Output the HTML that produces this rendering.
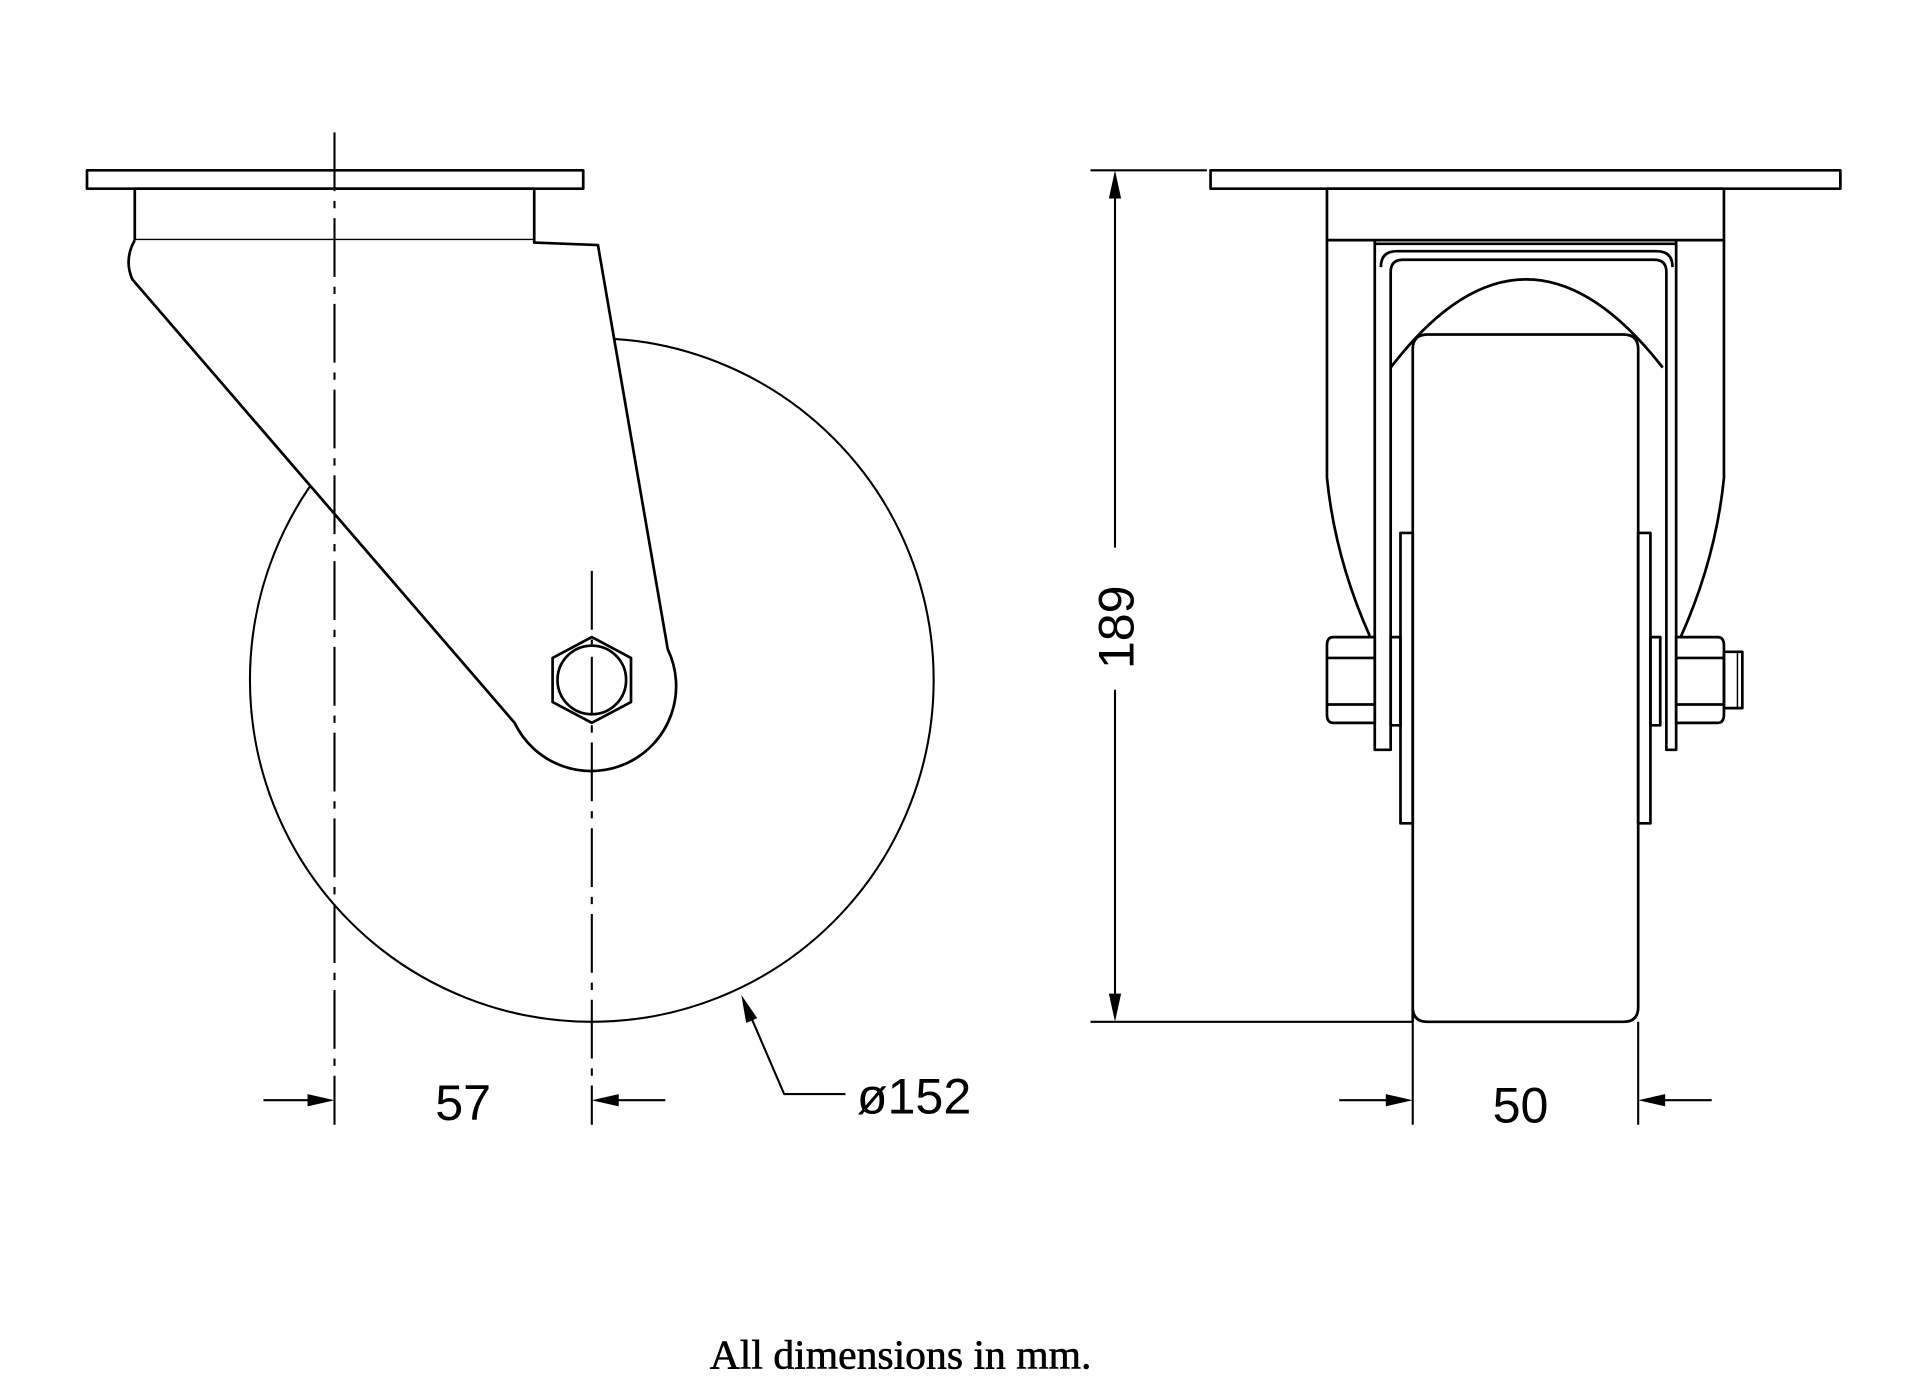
<!DOCTYPE html>
<html><head><style>
html,body{margin:0;padding:0;background:#fff;width:1920px;height:1382px;overflow:hidden}
svg{display:block}
text{font-family:"Liberation Sans",sans-serif;fill:#000}
</style></head><body>
<svg width="1920" height="1382" viewBox="0 0 1567 1128" preserveAspectRatio="none" xmlns="http://www.w3.org/2000/svg">
<g fill="none" stroke="#000" stroke-width="2.2" stroke-linejoin="round">
<!-- LEFT VIEW -->
<circle cx="483" cy="555" r="279" stroke-width="1.7"/>
<rect x="71" y="139" width="405" height="15" fill="#fff"/>
<rect x="110" y="154" width="326" height="42" fill="#fff"/>
<path d="M110,196 Q101,212 108,228 L420,590 A62,62 0 0 0 545,530 L488,200 L436,198 L436,196" fill="#fff"/>
<polygon points="483,520 515,537 515,573 483,590 451,573 451,537"/>
<circle cx="483" cy="555" r="28"/>
<line x1="273" y1="108" x2="273" y2="918" stroke-width="1.7" stroke-dasharray="48,8,6,8"/>
<line x1="483" y1="466" x2="483" y2="918" stroke-width="1.7" stroke-dasharray="48,8,6,8"/>
<line x1="215" y1="898" x2="255" y2="898" stroke-width="1.7"/>
<line x1="501" y1="898" x2="543" y2="898" stroke-width="1.7"/>
<polyline points="690,893 640,893 612,828" stroke-width="1.7"/>
<!-- RIGHT VIEW -->
<rect x="988" y="139" width="514" height="15"/>
<rect x="1083" y="154" width="324" height="42"/>
<path d="M1083,196 L1083,390 Q1090,460 1122,528"/>
<path d="M1407,196 L1407,390 Q1400,460 1368,528"/>
<line x1="1122" y1="199" x2="1368" y2="199"/>
<path d="M1122,196 L1122,612 L1135,612 L1135,222 Q1135,212 1145,212 L1350,212 Q1360,212 1360,222 L1360,612 L1368,612 L1368,196"/>
<path d="M1127,218 Q1127,205 1140,205 L1352,205 Q1365,205 1365,218"/>
<path d="M1135,300 Q1245,156 1357,300"/>
<path d="M1153,834 L1153,285 Q1153,273 1165,273 L1325,273 Q1337,273 1337,285 L1337,822 Q1337,834 1325,834 L1165,834 Q1153,834 1153,822" fill="#fff"/>
<rect x="1143" y="435" width="10" height="237"/>
<rect x="1337" y="435" width="10" height="237"/>
<rect x="1135" y="520" width="8" height="72"/>
<rect x="1347" y="520" width="8" height="72"/>
<path d="M1122,520 L1088,520 Q1083,520 1083,527 L1083,583 Q1083,590 1088,590 L1122,590 Z M1083,537 L1122,537 M1083,575 L1122,575" fill="#fff"/>
<path d="M1368,520 L1402,520 Q1407,520 1407,527 L1407,583 Q1407,590 1402,590 L1368,590 Z M1368,537 L1407,537 M1368,575 L1407,575" fill="#fff"/>
<rect x="1407" y="532" width="15" height="46"/>
<line x1="1418" y1="532" x2="1418" y2="578" stroke-width="1.2"/>
<!-- dims -->
<line x1="890" y1="139" x2="985" y2="139" stroke-width="1.7"/>
<line x1="890" y1="834" x2="1153" y2="834" stroke-width="1.7"/>
<line x1="910" y1="160" x2="910" y2="447" stroke-width="1.7"/>
<line x1="910" y1="563" x2="910" y2="813" stroke-width="1.7"/>
<line x1="1153" y1="834" x2="1153" y2="918" stroke-width="1.7"/>
<line x1="1337" y1="834" x2="1337" y2="918" stroke-width="1.7"/>
<line x1="1093" y1="898" x2="1133" y2="898" stroke-width="1.7"/>
<line x1="1357" y1="898" x2="1397" y2="898" stroke-width="1.7"/>
</g>
<g fill="#000">
<polygon points="273,898 251,893 251,903"/>
<polygon points="483,898 505,893 505,903"/>
<polygon points="605,812 609,835 618,831"/>
<polygon points="910,139 905,162 915,162"/>
<polygon points="910,834 905,811 915,811"/>
<polygon points="1153,898 1131,893 1131,903"/>
<polygon points="1337,898 1359,893 1359,903"/>
</g>
<text x="378" y="914" font-size="41" text-anchor="middle">57</text>
<text x="746" y="909" font-size="41" text-anchor="middle">ø152</text>
<text x="1241" y="916" font-size="41" text-anchor="middle">50</text>
<text transform="translate(925,512) rotate(-90)" font-size="41" text-anchor="middle">189</text>
<text x="735" y="1117" font-size="34" text-anchor="middle" stroke="#000" stroke-width="0.5" style="font-family:'Liberation Serif',serif">All dimensions in mm.</text>
</svg>
</body></html>
